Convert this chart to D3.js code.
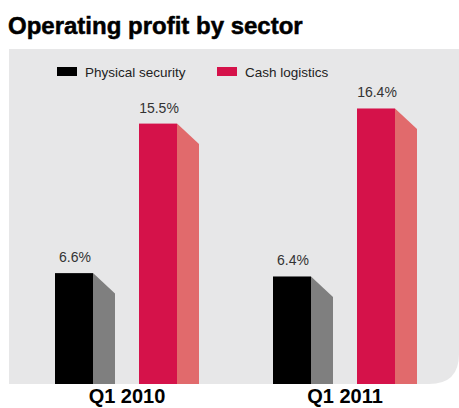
<!DOCTYPE html>
<html>
<head>
<meta charset="utf-8">
<script src="https://cdn.jsdelivr.net/npm/d3@7"></script>
<style>
  html, body { margin: 0; padding: 0; background: #fff; }
  svg { display: block; font-family: "Liberation Sans", Arial, Helvetica, sans-serif; }
</style>
</head>
<body>
<svg id="chart" width="459" height="408"></svg>
<script>
// Operating profit margin (%) per quarter and sector
const categories = ["Q1 2010", "Q1 2011"];
const series = ["Physical security", "Cash logistics"];
const physicalSecurity = [6.6, 6.4];
const cashLogistics = [15.5, 16.4];
const valueLabels = [["6.6%", "15.5%"], ["6.4%", "16.4%"]];

const W = 459, H = 408;
const svg = d3.select("#chart");

const frontColors = ["#000000", "#d5124a"];
const sideColors = ["#7f7f7f", "#e16a6c"];

const baseY = 384;
const y = d3.scaleLinear().domain([0, 20]).range([baseY, 48]);
const x0 = d3.scaleBand().domain(categories).range([18, 454]);
const x1 = d3.scaleBand().domain(series).range([37, 205]);
const barW = 38;
const depth = 22;

// Title
svg.append("text")
  .attr("x", 8).attr("y", 34)
  .attr("font-size", 24).attr("font-weight", "bold")
  .attr("fill", "#000")
  .attr("stroke", "#000").attr("stroke-width", 0.5)
  .text("Operating profit by sector");

// Panel with rounded lower-right corner
const px = 9, py = 49, pr = 459, pb = baseY, rad = 30;
svg.append("path")
  .attr("d", `M${px},${py}H${pr}V${pb - rad}Q${pr},${pb} ${pr - rad},${pb}H${px}Z`)
  .attr("fill", "#e7e7e8");

// Legend
const legend = svg.append("g");
const legendX = [57, 217];
series.forEach((s, i) => {
  legend.append("rect")
    .attr("x", legendX[i]).attr("y", 67)
    .attr("width", 20).attr("height", 9)
    .attr("fill", frontColors[i]);
  legend.append("text")
    .attr("x", legendX[i] + 28).attr("y", 77)
    .attr("font-size", 13.5).attr("fill", "#222")
    .text(s);
});

// Bars with extruded side faces
const rows = categories.map((c, ci) => ({
  cat: c,
  values: [physicalSecurity[ci], cashLogistics[ci]],
  labels: valueLabels[ci]
}));

const groups = svg.selectAll("g.grp").data(rows).join("g")
  .attr("class", "grp")
  .attr("transform", d => `translate(${x0(d.cat)},0)`);

groups.each(function(d) {
  const g = d3.select(this);
  series.forEach((s, si) => {
    const v = d.values[si];
    const bx = x1(s);
    const top = y(v);
    // side face
    g.append("path")
      .attr("d", `M${bx + barW},${top}L${bx + barW + depth},${top + depth * 0.93}V${baseY}H${bx + barW}Z`)
      .attr("fill", sideColors[si]);
    // front face
    g.append("rect")
      .attr("x", bx).attr("y", top)
      .attr("width", barW).attr("height", baseY - top)
      .attr("fill", frontColors[si]);
    // value label
    g.append("text")
      .attr("x", bx + barW / 2 + 1).attr("y", top - 11)
      .attr("text-anchor", "middle")
      .attr("font-size", 14).attr("fill", "#333")
      .text(d.labels[si]);
  });
});

// Category labels
svg.selectAll("text.cat").data(categories).join("text")
  .attr("class", "cat")
  .attr("x", d => x0(d) + x0.bandwidth() / 2)
  .attr("y", 403)
  .attr("text-anchor", "middle")
  .attr("font-size", 20).attr("font-weight", "bold")
  .attr("fill", "#000")
  .text(d => d);
</script>
</body>
</html>
